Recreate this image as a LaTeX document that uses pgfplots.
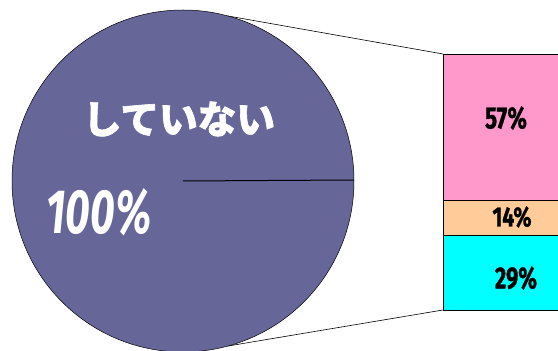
\documentclass[border=0pt]{standalone}
\usepackage{pgfplots}
\pgfplotsset{compat=1.18}
\usepackage{fontspec}
\setmainfont{Fira Sans}
\newfontfamily\cjk{Noto Sans CJK JP}[BoldFeatures={FakeBold=1.6}]
\newfontfamily\heavy{Fira Sans}[BoldFeatures={FakeBold=1.2}]
\definecolor{piec}{RGB}{102,102,153}
\definecolor{pinkc}{RGB}{255,153,204}
\definecolor{peachc}{RGB}{255,204,153}
\definecolor{cyanc}{RGB}{0,255,255}
\begin{document}
\begin{tikzpicture}
\useasboundingbox (0,0) rectangle (558pt,351pt);
% pie (one slice: 100%)
\begin{axis}[at={(0pt,0pt)}, anchor=south west, scale only axis,
  width=558pt, height=351pt, xmin=0, xmax=558, ymin=0, ymax=351,
  hide axis, clip=false]
\draw[black, line width=0.6pt] (axis cs:228,335) -- (axis cs:443,297);
\draw[black, line width=0.6pt] (axis cs:228,5) -- (axis cs:443,41);
\filldraw[fill=piec, draw=black, line width=0.5pt] (axis cs:183,170) circle[radius=171];
\draw[black, line width=1pt] (axis cs:183,170) -- (axis cs:354,171);
\node[white, inner sep=0pt] at (axis cs:179,232) {\resizebox{192pt}{!}{\cjk\bfseries していない}};
\node[white, inner sep=0pt] at (axis cs:99,139) {\resizebox{105pt}{45pt}{\heavy\bfseries\itshape 100\%}};
\end{axis}
% stacked bar of the breakdown
\begin{axis}[at={(443pt,41pt)}, anchor=south west, scale only axis,
  width=130pt, height=256pt, xmin=0.5, xmax=1.5, ymin=0, ymax=100,
  ybar stacked, bar width=130pt, hide axis, clip=false]
\addplot[fill=cyanc, draw=black, line width=0.6pt] coordinates {(1,29)};
\addplot[fill=peachc, draw=black, line width=0.6pt] coordinates {(1,14)};
\addplot[fill=pinkc, draw=black, line width=0.6pt] coordinates {(1,57)};
\end{axis}
\node[black, inner sep=0pt] at (506pt,233pt) {\resizebox{42pt}{22pt}{\heavy\bfseries 57\%}};
\node[black, inner sep=0pt] at (512pt,134pt) {\resizebox{39pt}{20pt}{\heavy\bfseries 14\%}};
\node[black, inner sep=0pt] at (516pt,73pt) {\resizebox{42pt}{22pt}{\heavy\bfseries 29\%}};
\end{tikzpicture}
\end{document}
